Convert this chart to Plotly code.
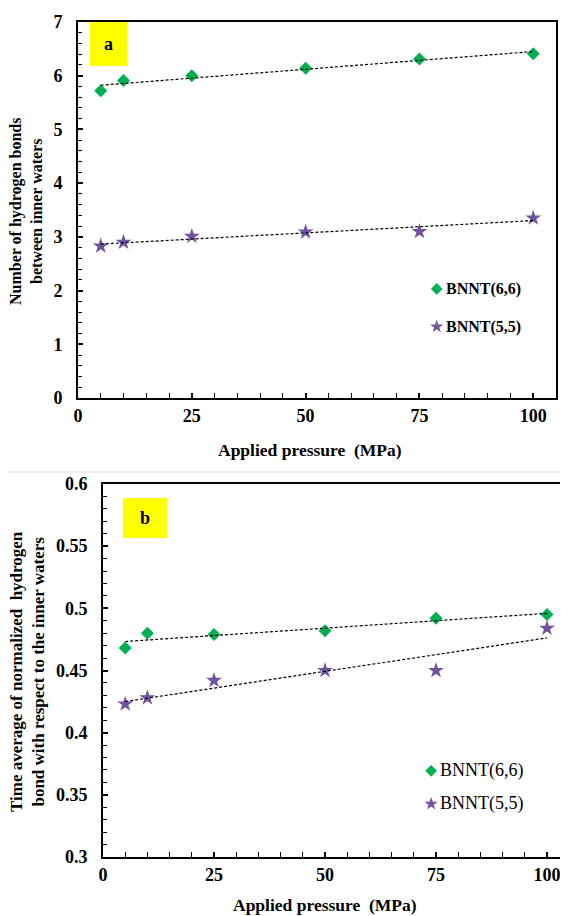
import numpy as np
import plotly.graph_objects as go

pressure = [5, 10, 25, 50, 75, 100]
hb_66 = [5.72, 5.91, 6.00, 6.14, 6.31, 6.41]
hb_55 = [2.83, 2.90, 3.01, 3.09, 3.10, 3.35]
tavg_66 = [0.468, 0.480, 0.479, 0.482, 0.492, 0.495]
tavg_55 = [0.423, 0.428, 0.442, 0.450, 0.450, 0.484]
x_ticks = [0, 25, 50, 75, 100]
names = ["BNNT(6,6)", "BNNT(5,5)"]

GREEN = "#00B050"
PURPLE = "#7152A0"
FONT = "Liberation Serif"

fig = go.Figure()

def add_panel(xa, ya, y66, y55):
    for y, col, sym, size, nm in [(y66, GREEN, "diamond", 10, names[0]),
                                  (y55, PURPLE, "star", 12, names[1])]:
        fig.add_trace(go.Scatter(x=pressure, y=y, mode="markers", name=nm,
                                 marker=dict(color=col, symbol=sym, size=size, line=dict(width=0)),
                                 xaxis=xa, yaxis=ya, showlegend=False))
        k, b = np.polyfit(pressure, y, 1)
        xs = np.array([pressure[0], pressure[-1]])
        fig.add_trace(go.Scatter(x=xs, y=k * xs + b, mode="lines",
                                 line=dict(color="black", width=1.2, dash="3px,2px"),
                                 xaxis=xa, yaxis=ya, showlegend=False, hoverinfo="skip"))

add_panel("x", "y", hb_66, hb_55)
add_panel("x2", "y2", tavg_66, tavg_55)

# the page body adds an 8px offset; size the figure so it fits the window
OFF = 8
W, H = 560, 908
def px(x):
    return (x - OFF) / W
def py(y):
    return 1 - (y - OFF) / H

tickfont = dict(family=FONT, size=18, color="black", weight="bold")
common_x = dict(range=[0, 105], tickvals=x_ticks, ticks="inside", ticklen=5, tickwidth=1.5,
                tickcolor="black", showgrid=False, zeroline=False, showline=True,
                linecolor="black", linewidth=2, tickfont=tickfont, automargin=False,
                minor=dict(dtick=5, tick0=0, ticks="inside", ticklen=5, tickwidth=1.2, tickcolor="black"))
common_y = dict(ticks="inside", ticklen=5, tickwidth=1.5, tickcolor="black",
                showgrid=False, zeroline=False, showline=True, linecolor="black",
                linewidth=2, tickfont=tickfont, ticklabelstandoff=10, automargin=False)

bot_x0 = 103
bot_scale = 4.44

fig.update_layout(
    template="none",
    width=W, height=H, margin=dict(l=0, r=0, t=0, b=0, autoexpand=False),
    paper_bgcolor="white", plot_bgcolor="white", showlegend=False,
    xaxis=dict(domain=[px(78), px(556)], anchor="y", mirror=True, **common_x),
    yaxis=dict(domain=[py(398), py(22)], anchor="x", range=[0, 7], dtick=1, mirror=True,
               minor=dict(dtick=0.2, ticks="inside", ticklen=4, tickwidth=1.2, tickcolor="black"),
               **common_y),
    xaxis2=dict(domain=[px(bot_x0), 1.0], anchor="y2", mirror=True,
                **{**common_x, "range": [0, (568 - bot_x0) / bot_scale]}),
    yaxis2=dict(domain=[py(857), py(484)], anchor="x2", range=[0.3, 0.6], dtick=0.05,
                tickformat="~g", mirror=False,
                minor=dict(dtick=0.01, ticks="inside", ticklen=4, tickwidth=1.2, tickcolor="black"),
                **common_y),
)

# separator between the two panels
fig.add_shape(type="line", xref="paper", yref="paper", x0=0, x1=1, y0=py(472), y1=py(472),
              line=dict(color="#d9d9d9", width=1))

# yellow label boxes
fig.add_shape(type="rect", xref="x", yref="y", x0=2.6, x1=10.8, y0=6.18, y1=7,
              fillcolor="#FFFF00", line=dict(width=0), layer="below")
fig.add_shape(type="rect", xref="x2", yref="y2", x0=4.5, x1=14.4, y0=0.5565, y1=0.5887,
              fillcolor="#FFFF00", line=dict(width=0), layer="below")

ann = []
ann.append(dict(x=6.7, y=6.59, xref="x", yref="y", text="<b>a</b>", showarrow=False,
                font=dict(family=FONT, size=18, color="black")))
ann.append(dict(x=9.45, y=0.5726, xref="x2", yref="y2", text="<b>b</b>", showarrow=False,
                font=dict(family=FONT, size=18, color="black")))

# axis titles
ann.append(dict(x=px(310), y=py(450), xref="paper", yref="paper", text="<b>Applied pressure  (MPa)</b>",
                showarrow=False, font=dict(family=FONT, size=17.5, color="black"),
                xanchor="center", yanchor="middle"))
ann.append(dict(x=px(325), y=py(905), xref="paper", yref="paper", text="<b>Applied pressure  (MPa)</b>",
                showarrow=False, font=dict(family=FONT, size=17.5, color="black"),
                xanchor="center", yanchor="middle"))
ann.append(dict(x=px(26), y=py(212), xref="paper", yref="paper",
                text="<b>Number of hydrogen bonds<br>between inner waters</b>", textangle=-90,
                showarrow=False, font=dict(family=FONT, size=16, color="black"),
                xanchor="center", yanchor="middle"))
ann.append(dict(x=px(27), y=py(672), xref="paper", yref="paper",
                text="<b>Time average of normalized  hydrogen<br>bond with respect to the inner waters</b>",
                textangle=-90, showarrow=False, font=dict(family=FONT, size=17, color="black"),
                xanchor="center", yanchor="middle"))

# legends (drawn manually to match positions)
legend_items = [
    ("x", "y", 78.8, 2.03, GREEN, "diamond", 9, names[0], True),
    ("x", "y", 78.8, 1.33, PURPLE, "star", 10, names[1], True),
    ("x2", "y2", 73.9, 0.3693, GREEN, "diamond", 9, names[0], False),
    ("x2", "y2", 73.9, 0.3427, PURPLE, "star", 10, names[1], False),
]
for xa, ya, lx, ly, col, sym, sz, nm, bold in legend_items:
    fig.add_trace(go.Scatter(x=[lx], y=[ly], mode="markers", xaxis=xa, yaxis=ya,
                             marker=dict(color=col, symbol=sym, size=sz, line=dict(width=0)),
                             showlegend=False, hoverinfo="skip"))
    ann.append(dict(x=lx + 1.6, y=ly, xref=xa, yref=ya, xanchor="left",
                    text=f"<b>{nm}</b>" if bold else nm, showarrow=False,
                    font=dict(family=FONT, size=16 if bold else 18, color="black")))

fig.update_layout(annotations=ann)
fig.write_html("out.html")
